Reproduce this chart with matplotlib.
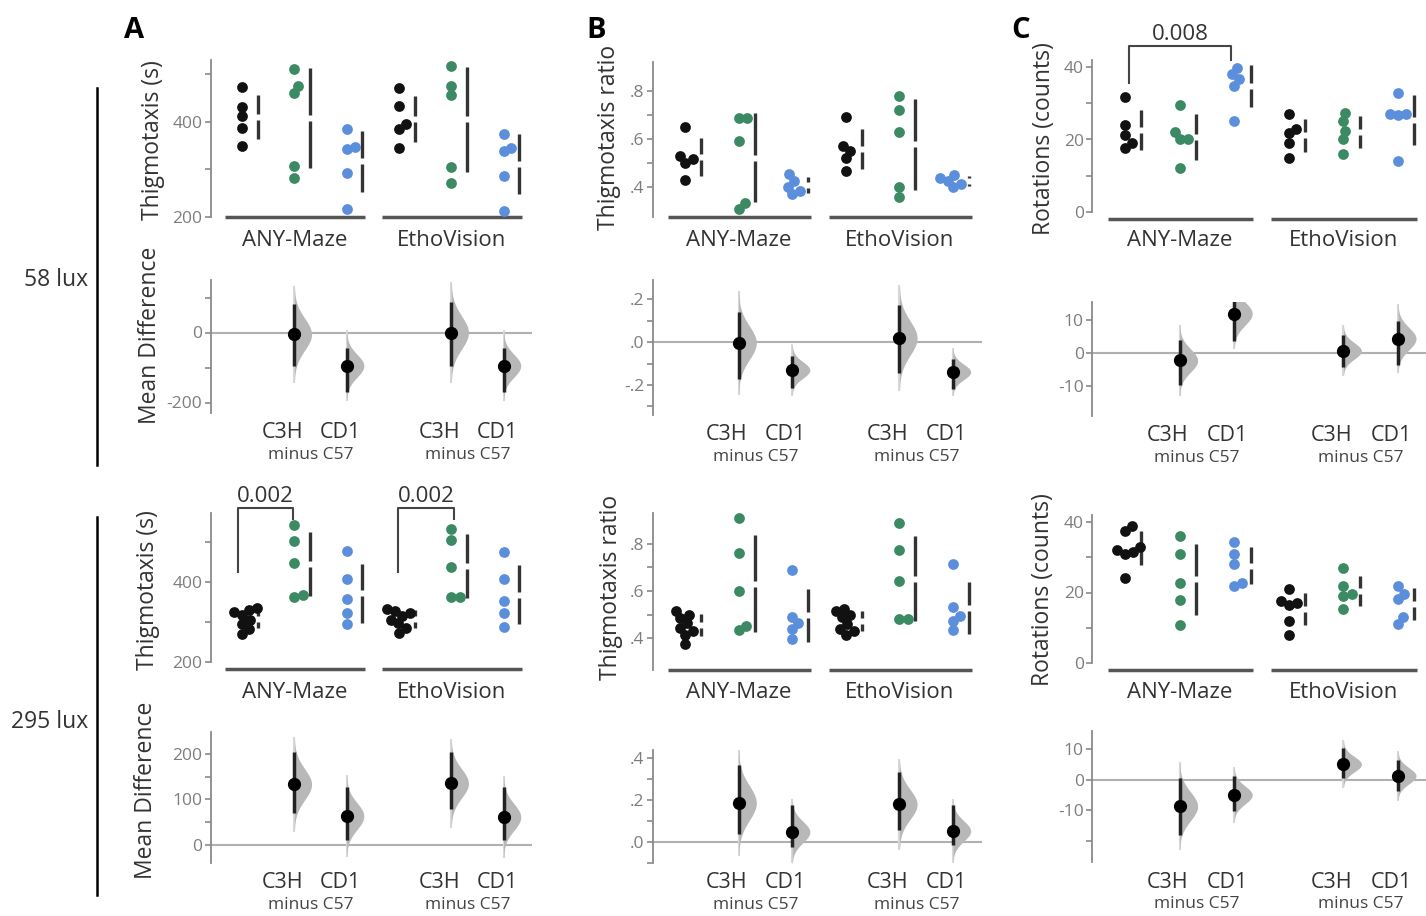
import numpy as np
import matplotlib.pyplot as plt
from matplotlib.lines import Line2D
from matplotlib.ticker import FuncFormatter

plt.rcParams['font.family'] = ['Open Sans', 'DejaVu Sans']

# group order in every swarm panel: C57, C3H, CD1 (ANY-Maze) then C57, C3H, CD1 (EthoVision)
software = ['ANY-Maze', 'EthoVision']
diff_names = ['C3H', 'CD1']
ref_label = 'minus C57'

# ---- 58 lux ----
thig_s_58 = [[473, 431, 412, 387, 350], [511, 476, 460, 308, 281], [384, 348, 343, 293, 216],
             [471, 433, 396, 385, 346], [517, 476, 456, 305, 271], [375, 346, 338, 286, 213]]
thig_r_58 = [[.65, .53, .515, .50, .43], [.685, .685, .59, .335, .31], [.455, .425, .40, .385, .37],
             [.69, .57, .55, .52, .466], [.78, .72, .63, .40, .36], [.45, .437, .425, .412, .398]]
rot_58 = [[31.7, 24, 21.2, 19, 17.7], [29.5, 22, 20, 20, 12], [39.7, 38, 36.7, 34.7, 25],
          [27, 23, 21.8, 19, 15], [27.3, 25, 22.3, 20, 15.9], [32.8, 27, 27, 26.7, 14]]

# mean differences (ANY C3H, ANY CD1, Etho C3H, Etho CD1) with 95% CI
thig_s_58_md = [-5, -95, 0, -95]
thig_s_58_lo = [-97, -171, -97, -171]
thig_s_58_hi = [81, -43, 88, -43]
thig_r_58_md = [-0.003, -0.13, 0.019, -0.139]
thig_r_58_lo = [-0.17, -0.213, -0.142, -0.22]
thig_r_58_hi = [0.14, -0.063, 0.173, -0.079]
rot_58_md = [-2.2, 12.0, 0.7, 4.4]
rot_58_lo = [-9.7, 3.6, -4.1, -3.6]
rot_58_hi = [4.1, 17.3, 5.6, 9.7]

# ---- 295 lux ----
thig_s_295 = [[335, 330, 325, 318, 305, 295, 282, 270], [542, 502, 446, 367, 362], [477, 406, 356, 321, 294],
              [333, 328, 322, 315, 305, 296, 285, 272], [533, 504, 436, 362, 361], [475, 406, 352, 321, 287]]
thig_r_295 = [[.515, .50, .485, .465, .445, .43, .415, .375], [.91, .76, .60, .45, .434], [.69, .49, .465, .44, .395],
              [.525, .515, .50, .49, .46, .44, .43, .415], [.888, .774, .64, .48, .48], [.713, .53, .494, .472, .433]]
rot_295 = [[39, 37.5, 33, 32, 31.5, 31, 24], [36, 31, 22.8, 17.9, 10.8], [34.2, 31, 28, 22.8, 21.9],
           [21, 17.5, 17, 16.5, 12, 8], [26.9, 21.9, 19.5, 19, 15.3], [21.9, 19.7, 18.1, 13.1, 11.2]]

thig_s_295_md = [133, 63, 135, 61]
thig_s_295_lo = [70, 11, 78, 11]
thig_s_295_hi = [203, 126, 203, 126]
thig_r_295_md = [0.187, 0.048, 0.18, 0.053]
thig_r_295_lo = [0.04, -0.024, 0.056, -0.016]
thig_r_295_hi = [0.368, 0.176, 0.336, 0.176]
rot_295_md = [-8.7, -5.0, 5.1, 1.3]
rot_295_lo = [-18.0, -10.4, 0.5, -3.8]
rot_295_hi = [0.5, 1.1, 10.4, 6.6]

W, H = 1426, 916
fig = plt.figure(figsize=(W / 100, H / 100), dpi=100)

COLORS = ['#111111', '#3b8a64', '#5b8fdb']
GREY = '#8a8a8a'
TXT = '#333333'


def fx(x):
    return x / W


def fy(y):
    return 1 - y / H


def ftext(x, y, s, **kw):
    fig.text(fx(x), fy(y), s, ha='center', va='center', **kw)


def int_fmt(v, p):
    return f'{v:.0f}'


def dot_fmt(v, p):
    return f'{v:.1f}'.replace('0.', '.')


def make_ax(pos0, unit, top, bottom, ylim, major, minor, fmt, bounds=None):
    left = pos0 - 0.6 * unit
    ax = fig.add_axes([fx(left), fy(bottom), 6.15 * unit / W, (bottom - top) / H])
    ax.set_xlim(-0.6, 5.55)
    ax.set_ylim(*ylim)
    for s in ['top', 'right', 'bottom']:
        ax.spines[s].set_visible(False)
    ax.spines['left'].set_color(GREY)
    ax.spines['left'].set_linewidth(1.3)
    if bounds:
        ax.spines['left'].set_bounds(*bounds)
    ax.set_yticks(major)
    ax.set_yticks(minor, minor=True)
    ax.yaxis.set_major_formatter(FuncFormatter(fmt))
    ax.tick_params(axis='y', which='both', length=4, width=1.2, color=GREY,
                   labelcolor='#7d7d7d', labelsize=12.5, pad=2)
    ax.set_xticks([])
    ax.patch.set_alpha(0)
    return ax


def ppu(ax):
    a = ax.transData.transform([(0, 0), (0, 1)])
    return abs(a[1, 1] - a[0, 1])


def swarm(ax, x0, vals, color, d=8.5):
    vals = np.asarray(vals, float)
    pts = ax.transData.transform(np.column_stack([np.full(len(vals), x0), vals]))
    ys = pts[:, 1]
    placed = []
    offs = np.zeros(len(vals))
    for i in np.argsort(ys):
        y = ys[i]
        cands = [0.0]
        for px, py in placed:
            dy = abs(py - y)
            if dy < d:
                dx = np.sqrt(d ** 2 - dy ** 2)
                cands += [px + dx, px - dx]
        ok = [c for c in cands
              if all((c - px) ** 2 + (y - py) ** 2 >= d ** 2 - 1e-6 for px, py in placed)]
        best = min(ok, key=abs)
        placed.append((best, y))
        offs[i] = best
    xs = ax.transData.inverted().transform(np.column_stack([pts[:, 0] + offs, ys]))[:, 0]
    ax.scatter(xs, vals, s=60, color=color, linewidths=0, zorder=3, clip_on=False)


def draw_swarm_panel(ax, data, label_dy):
    gap = 3 / ppu(ax)
    for i, vals in enumerate(data):
        swarm(ax, i, vals, COLORS[i % 3])
        m, sd = np.mean(vals), np.std(vals, ddof=1)
        xg = i + 0.3
        ax.plot([xg, xg], [m - sd, m - gap], color='#333333', lw=2.4, solid_capstyle='butt', zorder=2)
        ax.plot([xg, xg], [m + gap, m + sd], color='#333333', lw=2.4, solid_capstyle='butt', zorder=2)
    yb = ax.get_ylim()[0]
    for g, name in enumerate(software):
        ax.plot([3 * g - 0.32, 3 * g + 2.35], [yb, yb], color='#555555', lw=2.5,
                solid_capstyle='butt', clip_on=False)
        ax.annotate(name, xy=(3 * g + 1, yb), xytext=(0, -label_dy * 0.72), textcoords='offset points',
                    ha='center', va='center', fontsize=16, color=TXT)


def draw_effect_panel(ax, md, lo, hi):
    ax.axhline(0, color='#b0b0b0', lw=1.5, zorder=0)
    for k, p in enumerate([1, 2, 4, 5]):
        sig = (hi[k] - lo[k]) / 3.92
        yy = np.linspace(md[k] - 3 * sig, md[k] + 3 * sig, 200)
        dens = np.exp(-0.5 * ((yy - md[k]) / sig) ** 2)
        ax.plot([p, p], [yy[0], yy[-1]], color='#d8d8d8', lw=1.5, zorder=1)
        ax.fill_betweenx(yy, p, p + 0.33 * dens, color='#b8b8b8', lw=0, zorder=1)
        ax.plot([p, p], [lo[k], hi[k]], color='#222222', lw=2.5, solid_capstyle='butt', zorder=2)
        ax.plot(p, md[k], 'o', color='black', ms=8.5, zorder=3)
    yb = ax.get_ylim()[0]
    for g in range(2):
        b = 3 * g + 1
        ax.annotate(diff_names[0], xy=(b - 0.22, yb), xytext=(0, -20 * 0.72), textcoords='offset points',
                    ha='center', va='center', fontsize=15.5, color=TXT)
        ax.annotate(diff_names[1], xy=(b + 0.88, yb), xytext=(0, -20 * 0.72), textcoords='offset points',
                    ha='center', va='center', fontsize=15.5, color=TXT)
        ax.annotate(ref_label, xy=(b + 0.32, yb), xytext=(0, -42 * 0.72), textcoords='offset points',
                    ha='center', va='center', fontsize=12.5, color='#444444')


def bracket(ax, x1, x2, y1, y2, ytop, text, ytext):
    ax.plot([x1, x1, x2, x2], [y1, ytop, ytop, y2], color='#444444', lw=1.5, clip_on=False)
    ax.text((x1 + x2) / 2, ytext, text, ha='center', va='center', fontsize=16, color=TXT, clip_on=False)


COL = {'A': (242, 52.3), 'B': (685, 53.6), 'C': (1125, 54.6)}

# ---------------- 58 lux ----------------
ax = make_ax(*COL['A'], 60, 217, (200, 530), [200, 400], [300, 500], int_fmt, (200, 530))
draw_swarm_panel(ax, thig_s_58, 23)
ax = make_ax(*COL['A'], 280, 413, (-230, 150), [-200, 0], [-100, 100], int_fmt)
draw_effect_panel(ax, thig_s_58_md, thig_s_58_lo, thig_s_58_hi)

ax = make_ax(*COL['B'], 62, 217, (0.275, 0.92), [.4, .6, .8], [.5, .7], dot_fmt)
draw_swarm_panel(ax, thig_r_58, 23)
ax = make_ax(*COL['B'], 280, 415, (-0.34, 0.29), [-.2, 0, .2], [-.3, -.1, .1], dot_fmt)
draw_effect_panel(ax, thig_r_58_md, thig_r_58_lo, thig_r_58_hi)

ax = make_ax(*COL['C'], 60, 219, (-2, 42), [0, 20, 40], [10, 30], int_fmt, (0, 42))
draw_swarm_panel(ax, rot_58, 21)
bracket(ax, 0.08, 1.95, 35.6, 41.9, 45.8, '0.008', 49.0)
ax = make_ax(*COL['C'], 302, 416, (-19, 15.5), [-10, 0, 10], [], int_fmt)
draw_effect_panel(ax, rot_58_md, rot_58_lo, rot_58_hi)

# ---------------- 295 lux ----------------
ax = make_ax(*COL['A'], 513, 669, (182, 572), [200, 400], [300, 500], int_fmt, (200, 572))
draw_swarm_panel(ax, thig_s_295, 24)
bracket(ax, -0.08, 0.98, 425, 557, 585, '0.002', 612)
bracket(ax, 2.98, 4.05, 425, 557, 585, '0.002', 612)
ax = make_ax(*COL['A'], 732, 863, (-40, 248), [0, 100, 200], [50, 150], int_fmt)
draw_effect_panel(ax, thig_s_295_md, thig_s_295_lo, thig_s_295_hi)

ax = make_ax(*COL['B'], 513, 670, (0.265, 0.93), [.4, .6, .8], [.5, .7], dot_fmt)
draw_swarm_panel(ax, thig_r_295, 23)
ax = make_ax(*COL['B'], 750, 863, (-0.1, 0.44), [0, .2, .4], [-.1, .1, .3], dot_fmt)
draw_effect_panel(ax, thig_r_295_md, thig_r_295_lo, thig_r_295_hi)

ax = make_ax(*COL['C'], 515, 670, (-2, 42), [0, 20, 40], [10, 30], int_fmt, (0, 42))
draw_swarm_panel(ax, rot_295, 22)
ax = make_ax(*COL['C'], 731, 862, (-27, 16), [-10, 0, 10], [-20], int_fmt)
draw_effect_panel(ax, rot_295_md, rot_295_lo, rot_295_hi)

# ---------------- labels ----------------
ylab = dict(rotation=90, fontsize=16.5, color=TXT)
ftext(153, 140, 'Thigmotaxis (s)', **ylab)
ftext(150, 335, 'Mean Difference', **ylab)
ftext(148, 590, 'Thigmotaxis (s)', **ylab)
ftext(146, 790, 'Mean Difference', **ylab)
ftext(609, 137, 'Thigmotaxis ratio', **ylab)
ftext(611, 587, 'Thigmotaxis ratio', **ylab)
ftext(1044, 139, 'Rotations (counts)', **ylab)
ftext(1043, 590, 'Rotations (counts)', **ylab)

for letter, x in [('A', 134), ('B', 596), ('C', 1021)]:
    ftext(x, 30, letter, fontsize=21, fontweight='bold', color='black')

ftext(56, 280, '58 lux', fontsize=16.5, color=TXT)
ftext(50, 722, '295 lux', fontsize=16.5, color=TXT)
fig.add_artist(Line2D([fx(97), fx(97)], [fy(88), fy(465)], color='black', lw=1.8))
fig.add_artist(Line2D([fx(97), fx(97)], [fy(517), fy(895)], color='black', lw=1.8))

fig.savefig('out.png', dpi=100)
